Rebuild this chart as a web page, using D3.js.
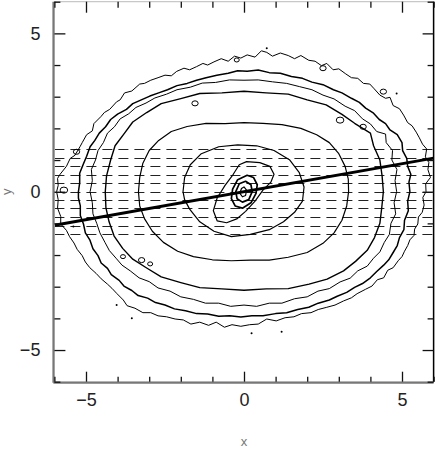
<!DOCTYPE html>
<html>
<head>
<meta charset="utf-8">
<script src="https://cdn.jsdelivr.net/npm/d3@7"></script>
<style>
body{margin:0;background:#fff;}
svg{display:block;}
</style>
</head>
<body>
<div id="plot"></div>
<script>
// contour levels, outer to inner, in data units
var contour1 = [[-5.93,0.0],[-5.88,0.2],[-5.9,0.42],[-5.82,0.55],[-5.62,0.8],[-5.5,1.05],[-5.35,1.15],[-5.19,1.42],[-5.12,1.55],[-4.98,1.8],[-4.8,1.92],[-4.75,2.15],[-4.52,2.38],[-4.42,2.5],[-4.25,2.6],[-4.03,2.84],[-3.92,2.9],[-3.78,3.12],[-3.55,3.18],[-3.3,3.4],[-3.15,3.42],[-2.95,3.52],[-2.72,3.6],[-2.5,3.68],[-2.3,3.66],[-2.13,3.8],[-1.9,3.9],[-1.72,3.85],[-1.5,3.95],[-1.3,4.05],[-1.15,4.0],[-0.95,4.1],[-0.72,4.2],[-0.5,4.12],[-0.3,4.28],[-0.1,4.22],[0.1,4.32],[0.35,4.25],[0.55,4.45],[0.72,4.4],[0.9,4.28],[1.15,4.38],[1.4,4.3],[1.6,4.2],[1.8,4.3],[2.05,4.15],[2.25,4.12],[2.45,3.98],[2.62,4.05],[2.82,3.85],[3.0,3.88],[3.22,3.72],[3.4,3.6],[3.6,3.58],[3.78,3.42],[3.98,3.4],[4.12,3.25],[4.3,3.05],[4.48,2.95],[4.62,2.98],[4.72,2.72],[4.92,2.62],[5.05,2.42],[5.18,2.18],[5.32,2.08],[5.45,1.88],[5.55,1.7],[5.65,1.5],[5.78,1.35],[5.74,1.1],[5.85,0.92],[5.82,0.7],[5.9,0.45],[5.75,0.25],[5.76,0.0],[5.66,-0.18],[5.7,-0.42],[5.64,-0.65],[5.52,-0.8],[5.5,-1.02],[5.4,-1.18],[5.38,-1.38],[5.25,-1.52],[5.18,-1.7],[5.08,-1.88],[5.0,-2.05],[4.88,-2.18],[4.72,-2.4],[4.55,-2.48],[4.42,-2.72],[4.22,-2.78],[4.05,-2.98],[3.85,-3.08],[3.58,-3.22],[3.4,-3.35],[3.15,-3.45],[2.88,-3.58],[2.62,-3.65],[2.35,-3.72],[2.12,-3.82],[1.82,-3.85],[1.58,-3.95],[1.3,-3.98],[1.02,-4.08],[0.72,-4.02],[0.45,-4.18],[0.18,-4.2],[-0.1,-4.25],[-0.38,-4.2],[-0.62,-4.28],[-0.88,-4.12],[-1.12,-4.22],[-1.4,-4.12],[-1.68,-4.18],[-1.92,-4.05],[-2.18,-4.02],[-2.45,-3.95],[-2.72,-3.92],[-2.95,-3.82],[-3.2,-3.82],[-3.45,-3.68],[-3.7,-3.6],[-3.82,-3.42],[-4.02,-3.22],[-4.18,-3.05],[-4.32,-2.92],[-4.52,-2.75],[-4.68,-2.58],[-4.88,-2.4],[-5.02,-2.22],[-5.12,-2.02],[-5.28,-1.82],[-5.38,-1.62],[-5.52,-1.42],[-5.62,-1.22],[-5.8,-1.02],[-5.8,-0.78],[-5.9,-0.52],[-5.88,-0.25]];

var contour2 = [[-5.24,0],[-5.2,0.28],[-5.2,0.58],[-5.08,0.88],[-4.98,1.12],[-4.87,1.42],[-4.72,1.62],[-4.58,1.85],[-4.38,2.05],[-4.22,2.28],[-4.0,2.45],[-3.72,2.6],[-3.52,2.78],[-3.25,2.9],[-2.98,3.02],[-2.7,3.12],[-2.42,3.22],[-2.12,3.35],[-1.8,3.42],[-1.5,3.52],[-1.2,3.6],[-0.86,3.68],[-0.5,3.74],[-0.2,3.82],[0.1,3.8],[0.45,3.84],[0.8,3.76],[1.15,3.74],[1.5,3.64],[1.85,3.58],[2.15,3.46],[2.5,3.38],[2.83,3.22],[3.1,3.12],[3.4,2.95],[3.65,2.82],[3.85,2.64],[4.1,2.48],[4.28,2.28],[4.48,2.15],[4.62,1.95],[4.85,1.8],[5.0,1.55],[5.02,1.3],[5.15,1.05],[5.18,0.8],[5.28,0.55],[5.22,0.3],[5.25,0.0],[5.18,-0.3],[5.2,-0.6],[5.08,-0.9],[5.06,-1.2],[4.92,-1.45],[4.85,-1.7],[4.72,-1.92],[4.58,-2.15],[4.42,-2.32],[4.2,-2.52],[4.0,-2.72],[3.75,-2.9],[3.5,-3.02],[3.25,-3.18],[2.95,-3.3],[2.7,-3.42],[2.35,-3.52],[2.05,-3.65],[1.7,-3.72],[1.35,-3.82],[1.0,-3.85],[0.6,-3.92],[0.25,-3.92],[-0.1,-3.96],[-0.45,-3.92],[-0.8,-3.93],[-1.15,-3.86],[-1.5,-3.85],[-1.85,-3.76],[-2.2,-3.7],[-2.5,-3.58],[-2.8,-3.5],[-3.05,-3.36],[-3.35,-3.28],[-3.55,-3.12],[-3.8,-2.98],[-3.95,-2.8],[-4.2,-2.62],[-4.32,-2.42],[-4.52,-2.25],[-4.62,-2.02],[-4.78,-1.8],[-4.88,-1.52],[-5.02,-1.3],[-5.08,-1.02],[-5.18,-0.75],[-5.18,-0.45],[-5.24,-0.2]];

var contour3 = [[-4.87,0],[-4.8,0.35],[-4.83,0.7],[-4.7,1.0],[-4.62,1.3],[-4.45,1.55],[-4.32,1.85],[-4.1,2.05],[-3.92,2.3],[-3.65,2.46],[-3.42,2.66],[-3.1,2.8],[-2.82,2.96],[-2.45,3.08],[-2.12,3.22],[-1.7,3.3],[-1.32,3.43],[-0.9,3.45],[-0.46,3.53],[0.0,3.52],[0.45,3.53],[0.9,3.47],[1.35,3.42],[1.75,3.32],[2.15,3.22],[2.5,3.05],[2.85,2.93],[3.2,2.7],[3.5,2.56],[3.75,2.3],[4.0,2.14],[4.2,1.9],[4.48,1.82],[4.5,1.55],[4.7,1.3],[4.68,1.0],[4.84,0.7],[4.78,0.35],[4.83,0.0],[4.75,-0.35],[4.8,-0.7],[4.65,-1.0],[4.6,-1.35],[4.44,-1.6],[4.3,-1.9],[4.1,-2.1],[3.9,-2.35],[3.6,-2.5],[3.36,-2.73],[3.04,-2.85],[2.7,-3.06],[2.34,-3.14],[2.0,-3.32],[1.6,-3.38],[1.2,-3.52],[0.8,-3.52],[0.4,-3.62],[0.0,-3.58],[-0.42,-3.62],[-0.8,-3.52],[-1.22,-3.52],[-1.6,-3.4],[-2.0,-3.32],[-2.34,-3.14],[-2.72,-3.04],[-3.0,-2.84],[-3.32,-2.72],[-3.6,-2.5],[-3.86,-2.32],[-4.05,-2.1],[-4.26,-1.86],[-4.4,-1.6],[-4.56,-1.3],[-4.66,-1.0],[-4.78,-0.7],[-4.8,-0.35]];

var contour4 = [[-4.39,0],[-4.35,0.5],[-4.22,1.0],[-4.08,1.45],[-3.78,1.85],[-3.52,2.2],[-3.08,2.5],[-2.62,2.78],[-2.0,2.94],[-1.4,3.1],[-0.7,3.12],[0.0,3.17],[0.7,3.12],[1.4,3.08],[2.0,2.9],[2.6,2.74],[3.1,2.44],[3.5,2.16],[4.0,1.85],[4.1,1.45],[4.3,1.0],[4.37,0.5],[4.41,0],[4.36,-0.5],[4.3,-1.0],[4.13,-1.45],[3.9,-1.85],[3.53,-2.2],[3.15,-2.5],[2.63,-2.76],[2.06,-2.92],[1.4,-3.06],[0.7,-3.07],[0.0,-3.11],[-0.7,-3.07],[-1.4,-3.03],[-2.0,-2.87],[-2.62,-2.69],[-3.08,-2.41],[-3.52,-2.13],[-3.84,-1.79],[-4.11,-1.4],[-4.27,-0.95],[-4.37,-0.5]];

var contour5 = [[-3.34,0],[-3.3,0.45],[-3.2,0.9],[-3.0,1.3],[-2.7,1.62],[-2.3,1.9],[-1.8,2.06],[-1.2,2.16],[-0.6,2.15],[0,2.18],[0.6,2.16],[1.2,2.12],[1.8,2.0],[2.3,1.8],[2.7,1.55],[3.0,1.2],[3.2,0.8],[3.3,0.4],[3.31,0],[3.25,-0.45],[3.1,-0.9],[2.85,-1.3],[2.5,-1.63],[2.0,-1.92],[1.4,-2.07],[0.8,-2.16],[0.2,-2.16],[-0.4,-2.18],[-1.0,-2.15],[-1.6,-2.05],[-2.1,-1.88],[-2.55,-1.6],[-2.9,-1.25],[-3.15,-0.85],[-3.3,-0.45]];

var contour6 = [[-1.93,0],[-1.88,0.45],[-1.7,0.85],[-1.35,1.2],[-0.8,1.42],[-0.2,1.48],[0.4,1.45],[0.95,1.3],[1.45,1.0],[1.75,0.6],[1.9,0.15],[1.85,-0.3],[1.6,-0.65],[1.25,-0.95],[0.8,-1.2],[0.2,-1.35],[-0.4,-1.42],[-0.95,-1.25],[-1.4,-0.95],[-1.72,-0.55],[-1.88,-0.25]];

var contour7 = [[0.08,0.95],[0.5,0.92],[0.82,0.8],[0.95,0.55],[0.85,0.3],[0.6,0.05],[0.35,-0.3],[0.05,-0.62],[-0.23,-0.86],[-0.55,-0.98],[-0.85,-0.92],[-0.97,-0.6],[-0.85,-0.2],[-0.6,0.2],[-0.34,0.55],[-0.15,0.85]];

var contour8 = [[0.1,0.52],[0.3,0.45],[0.42,0.22],[0.38,-0.05],[0.22,-0.35],[-0.05,-0.52],[-0.28,-0.45],[-0.4,-0.22],[-0.36,0.08],[-0.2,0.38]];

var contour9 = [[0.05,0.33],[0.22,0.22],[0.26,0.0],[0.15,-0.25],[-0.05,-0.33],[-0.22,-0.22],[-0.26,0.0],[-0.15,0.25]];

var contour10 = [[0.0,0.15],[0.08,0.05],[0.05,-0.12],[-0.05,-0.16],[-0.13,-0.05],[-0.08,0.1]];

var contours = [contour1,contour2,contour3,contour4,contour5,contour6,contour7,contour8,contour9,contour10];
var contourWidths = [1.0,1.5,1.0,1.4,1.2,1.2,1.2,1.7,1.7,1.2];

// little closed islands and stray points near the outer levels
var islands = [[-5.7,0.05,0.12],[-5.3,1.26,0.1],[4.41,3.16,0.1],[3.04,2.26,0.12],[3.77,2.05,0.1],[2.5,3.9,0.1],[-3.83,-2.05,0.08],[-3.24,-2.16,0.1],[-2.97,-2.28,0.08],[-1.55,2.79,0.1],[-0.23,4.16,0.08]];
var dots = [[0.24,-4.47],[1.19,-4.42],[-4.03,-3.58],[-3.55,-4.0],[4.83,3.1],[0.72,4.53],[-5.4,-1.1]];

// horizontal dashed strips
var stripY = [1.34,1.07,0.80,0.53,0.27,0,-0.27,-0.53,-0.80,-1.07,-1.34];

// fitted line end points
var fitLine = [[-6,-1.06],[6,1.06]];

var majorTicks = [-5,0,5];
var minorTicks = [-6,-4,-3,-2,-1,1,2,3,4,6];

var W = 436, H = 450;
var x = d3.scaleLinear().domain([-6,6]).range([54.4,433.6]);
var y = d3.scaleLinear().domain([-6,6]).range([381.7,1.7]);

var svg = d3.select('#plot').append('svg')
	.attr('width',W).attr('height',H);

svg.append('clipPath').attr('id','clip')
	.append('rect')
	.attr('x',x(-6)).attr('y',y(6))
	.attr('width',x(6)-x(-6)).attr('height',y(-6)-y(6));

var plot = svg.append('g').attr('clip-path','url(#clip)');

//dashed strips
plot.selectAll('.strip').data(stripY).enter().append('line')
	.attr('class','strip')
	.attr('x1',x(-6)).attr('x2',x(6))
	.attr('y1',function(d){return Math.round(y(d))+0.5})
	.attr('y2',function(d){return Math.round(y(d))+0.5})
	.style('stroke','#222').style('stroke-width',1.2)
	.style('stroke-dasharray','10,6');

//contours
var line = d3.line()
	.x(function(d){return x(d[0])})
	.y(function(d){return y(d[1])})
	.curve(d3.curveLinearClosed);

plot.selectAll('.contour').data(contours).enter().append('path')
	.attr('class','contour')
	.attr('d',line)
	.style('fill','none').style('stroke','#000')
	.style('stroke-width',function(d,i){return contourWidths[i]})
	.style('stroke-linejoin','round');

plot.selectAll('.island').data(islands).enter().append('ellipse')
	.attr('cx',function(d){return x(d[0])})
	.attr('cy',function(d){return y(d[1])})
	.attr('rx',function(d){return x(d[2])-x(0)})
	.attr('ry',function(d){return (x(d[2])-x(0))*0.8})
	.style('fill','none').style('stroke','#000').style('stroke-width',1);

plot.selectAll('.dot').data(dots).enter().append('circle')
	.attr('cx',function(d){return x(d[0])})
	.attr('cy',function(d){return y(d[1])})
	.attr('r',1)
	.style('fill','#000');

//fitted line
plot.append('path').datum(fitLine)
	.attr('d',d3.line().x(function(d){return x(d[0])}).y(function(d){return y(d[1])}))
	.style('fill','none').style('stroke','#000').style('stroke-width',3);

//frame
svg.append('rect')
	.attr('x',x(-6)).attr('y',y(6))
	.attr('width',x(6)-x(-6)).attr('height',y(-6)-y(6))
	.style('fill','none').style('stroke','#bbb').style('stroke-width',1);
svg.append('line').attr('x1',x(-6)-1).attr('x2',x(-6)-1).attr('y1',y(6)).attr('y2',y(-6)+1)
	.style('stroke','#777').style('stroke-width',2);
svg.append('line').attr('x1',x(-6)-1).attr('x2',x(6)).attr('y1',y(-6)+1).attr('y2',y(-6)+1)
	.style('stroke','#777').style('stroke-width',2);
svg.append('line').attr('x1',x(6)).attr('x2',x(6)).attr('y1',y(6)).attr('y2',y(-6))
	.style('stroke','#000').style('stroke-width',1.5);

//axes: ticks point inward
function styleAxis(g){
	g.select('.domain').remove();
	g.selectAll('.tick line').style('stroke','#111').style('stroke-width',1.3);
	g.selectAll('text').style('font-family','"Liberation Sans",Arial,sans-serif')
		.style('font-size','18px').style('fill','#222');
}

svg.append('g').attr('transform','translate(0,'+y(-6)+')')
	.call(d3.axisBottom(x).tickValues(majorTicks).tickSize(-10).tickSizeOuter(0).tickPadding(12).tickFormat(d3.format('d')))
	.call(styleAxis);
svg.append('g').attr('transform','translate(0,'+y(-6)+')')
	.call(d3.axisBottom(x).tickValues(minorTicks).tickSize(-5).tickSizeOuter(0).tickFormat(''))
	.call(styleAxis);
svg.append('g').attr('transform','translate(0,'+y(6)+')')
	.call(d3.axisTop(x).tickValues(majorTicks).tickSize(-11).tickSizeOuter(0).tickFormat(''))
	.call(styleAxis);
svg.append('g').attr('transform','translate(0,'+y(6)+')')
	.call(d3.axisTop(x).tickValues(minorTicks).tickSize(-6).tickSizeOuter(0).tickFormat(''))
	.call(styleAxis);

svg.append('g').attr('transform','translate('+x(-6)+',0)')
	.call(d3.axisLeft(y).tickValues(majorTicks).tickSize(-11).tickSizeOuter(0).tickPadding(14).tickFormat(d3.format('d')))
	.call(styleAxis);
svg.append('g').attr('transform','translate('+x(-6)+',0)')
	.call(d3.axisLeft(y).tickValues(minorTicks).tickSize(-6).tickSizeOuter(0).tickFormat(''))
	.call(styleAxis);
svg.append('g').attr('transform','translate('+x(6)+',0)')
	.call(d3.axisRight(y).tickValues(majorTicks).tickSize(-11).tickSizeOuter(0).tickFormat(''))
	.call(styleAxis);
svg.append('g').attr('transform','translate('+x(6)+',0)')
	.call(d3.axisRight(y).tickValues(minorTicks).tickSize(-6).tickSizeOuter(0).tickFormat(''))
	.call(styleAxis);

//axis titles
svg.append('text')
	.attr('x',x(0)).attr('y',446)
	.attr('text-anchor','middle')
	.style('font-family','"Liberation Sans",Arial,sans-serif').style('font-size','13px').style('fill','#777')
	.text('x');
svg.append('text')
	.attr('transform','translate(11,'+y(0)+') rotate(-90)')
	.attr('text-anchor','middle')
	.style('font-family','"Liberation Sans",Arial,sans-serif').style('font-size','13px').style('fill','#777')
	.text('y');
</script>
</body>
</html>
